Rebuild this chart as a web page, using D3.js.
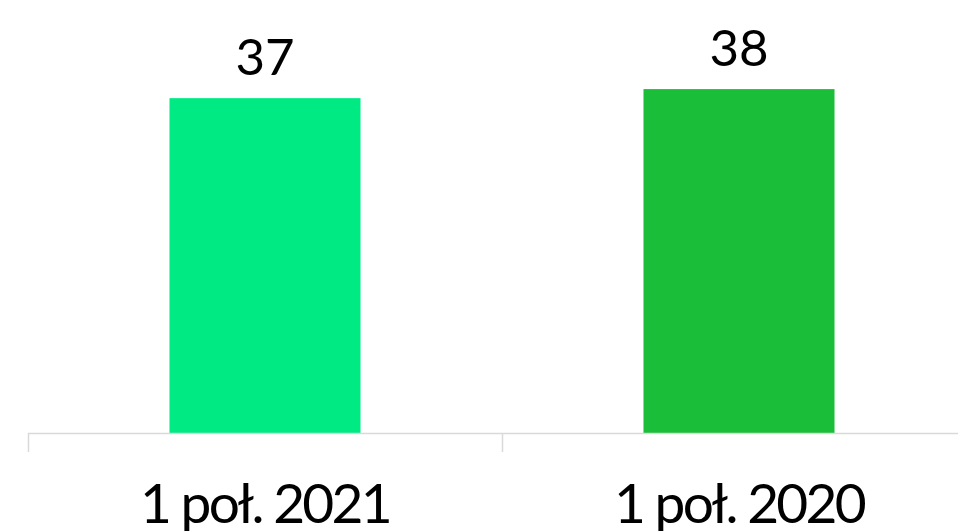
<!DOCTYPE html>
<html>
<head>
<meta charset="utf-8">
<script src="https://cdn.jsdelivr.net/npm/d3@7"></script>
<style>
  html, body { margin: 0; padding: 0; background: #fff; }
  svg { display: block; }
</style>
</head>
<body>
<svg id="chart" width="958" height="531"></svg>
<script>
// Chart data
const categories = ["1 poł. 2021", "1 poł. 2020"];
const values = [37, 38];
const colors = ["#00EA84", "#1ABE39"];

const width = 958, height = 531;
const margin = { left: 28, baseline: 433 };
const bandWidth = 474;

const svg = d3.select("#chart");

const x = d3.scaleBand()
  .domain(categories)
  .range([margin.left, margin.left + bandWidth * categories.length])
  .paddingInner(0.597)
  .paddingOuter(0.2985);

const y = d3.scaleLinear()
  .domain([0, 40])
  .range([margin.baseline, margin.baseline - 362]);

// Bars
svg.selectAll("rect.bar")
  .data(values)
  .join("rect")
  .attr("class", "bar")
  .attr("x", (d, i) => x(categories[i]))
  .attr("width", x.bandwidth())
  .attr("y", d => y(d))
  .attr("height", d => y(0) - y(d))
  .attr("fill", (d, i) => colors[i]);

// Category axis: baseline and separators between categories
const axisG = svg.append("g");
axisG.append("line")
  .attr("x1", margin.left).attr("x2", width)
  .attr("y1", margin.baseline + 0.5).attr("y2", margin.baseline + 0.5)
  .attr("stroke", "#d9d9d9").attr("stroke-width", 1.5);
const edges = d3.range(categories.length + 1).map(i => margin.left + i * bandWidth);
axisG.selectAll("line.tick")
  .data(edges)
  .join("line")
  .attr("class", "tick")
  .attr("x1", d => d + 0.5).attr("x2", d => d + 0.5)
  .attr("y1", margin.baseline).attr("y2", margin.baseline + 19)
  .attr("stroke", "#d9d9d9").attr("stroke-width", 1.5);

// Category labels
svg.selectAll("text.cat")
  .data(categories)
  .join("text")
  .attr("class", "cat")
  .attr("x", d => x(d) + x.bandwidth() / 2)
  .attr("y", 523)
  .attr("text-anchor", "middle")
  .attr("font-family", "Lato, sans-serif")
  .attr("font-size", 55)
  .attr("letter-spacing", -2.7)
  .attr("fill", "#000")
  .text(d => d);

// Value labels
svg.selectAll("text.val")
  .data(values)
  .join("text")
  .attr("class", "val")
  .attr("x", (d, i) => x(categories[i]) + x.bandwidth() / 2)
  .attr("y", d => y(d) - 23)
  .attr("text-anchor", "middle")
  .attr("font-family", "Lato, sans-serif")
  .attr("font-size", 51)
  .attr("fill", "#000")
  .text(d => d);
</script>
</body>
</html>
